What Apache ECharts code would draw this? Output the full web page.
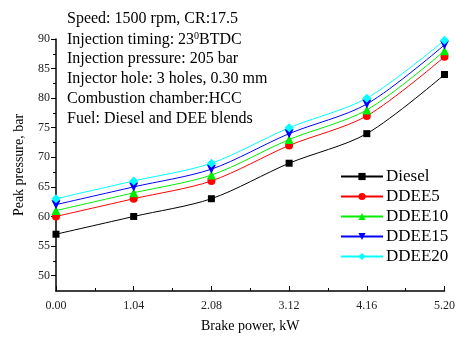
<!DOCTYPE html>
<html><head><meta charset="utf-8">
<script src="https://cdn.jsdelivr.net/npm/echarts@6/dist/echarts.min.js"></script>
<style>html,body{margin:0;padding:0;background:#fff}#c{width:458px;height:338px}</style>
</head><body><div id="c"></div>
<script>
const brakePower = [0, 1.04, 2.08, 3.12, 4.16, 5.2];
const diesel = [57, 60, 63, 69, 74, 84];
const ddee5  = [60, 63, 66, 72, 77, 87];
const ddee10 = [61, 64, 67, 73, 78, 88];
const ddee15 = [62, 65, 68, 74, 79, 89];
const ddee20 = [63, 66, 69, 75, 80, 89.8];
const xMajor = [0, 1.04, 2.08, 3.12, 4.16, 5.2];
const xMinor = [0.52, 1.56, 2.6, 3.64, 4.68];
const yMajor = [50, 55, 60, 65, 70, 75, 80, 85, 90];
const yMinor = [52.5, 57.5, 62.5, 67.5, 72.5, 77.5, 82.5, 87.5];
const seriesNames = ['Diesel', 'DDEE5', 'DDEE10', 'DDEE15', 'DDEE20'];
const seriesValues = [diesel, ddee5, ddee10, ddee15, ddee20];
const colors = ['#000000', '#ff0000', '#00ee00', '#0000ff', '#00ffff'];
const symbols = ['rect', 'circle', 'triangle', 'path://M0,0 L10,0 L5,9 Z', 'diamond'];
const symbolSizes = [7, 8, 9, 9, 9];
const notes = ['Speed: 1500 rpm, CR:17.5', 'Injection timing: 23{sup|0}BTDC', 'Injection pressure: 205 bar',
  'Injector hole: 3 holes, 0.30 mm', 'Combustion chamber:HCC', 'Fuel: Diesel and DEE blends'];

const font = 'Liberation Serif, Times New Roman, serif';
const chart = echarts.init(document.getElementById('c'));
const grid = {left: 56, right: 10, top: 39, bottom: 40};
chart.setOption({
  animation: false,
  grid: grid,
  xAxis: [{
    type: 'value', min: 0, max: 5.2, gridIndex: 0,
    name: 'Brake power, kW', nameLocation: 'middle', nameGap: 28,
    nameTextStyle: {fontFamily: font, fontSize: 14, color: '#000'},
    axisLine: {lineStyle: {color: '#000', width: 1.5}},
    axisTick: {inside: true, length: 5, customValues: xMajor, lineStyle: {color: '#000'}},
    axisLabel: {customValues: xMajor, formatter: v => v.toFixed(2), fontFamily: font, fontSize: 12, color: '#222', margin: 9},
    splitLine: {show: false}
  }, {
    type: 'value', min: 0, max: 5.2, position: 'bottom',
    axisLine: {show: false},
    axisTick: {inside: true, length: 3, customValues: xMinor, lineStyle: {color: '#000'}},
    axisLabel: {show: false}, splitLine: {show: false}
  }],
  yAxis: [{
    type: 'value', min: 47.4, max: 90,
    name: 'Peak pressure, bar', nameLocation: 'middle', nameGap: 30,
    nameTextStyle: {fontFamily: font, fontSize: 14, color: '#000'},
    axisLine: {show: true, lineStyle: {color: '#000', width: 1.5}},
    axisTick: {show: true, length: 5, customValues: yMajor, lineStyle: {color: '#000'}},
    axisLabel: {customValues: yMajor, fontFamily: font, fontSize: 12, color: '#222', margin: 6},
    splitLine: {show: false}
  }, {
    type: 'value', min: 47.4, max: 90, position: 'left',
    axisLine: {show: false},
    axisTick: {show: true, length: 3, customValues: yMinor, lineStyle: {color: '#000'}},
    axisLabel: {show: false}, splitLine: {show: false}
  }],
  legend: {
    orient: 'vertical', left: 335, top: 163, itemWidth: 42, itemHeight: 9, itemGap: 3,
    textStyle: {fontFamily: font, fontSize: 17, color: '#000', padding: [0, 0, 0, -2]},
    data: seriesNames
  },
  graphic: notes.map((t, i) => ({
    type: 'text', left: 67, top: 11 + i * 20,
    style: {text: t, font: '16px ' + font, fill: '#000',
      rich: {sup: {fontSize: 10, fontFamily: font, verticalAlign: 'top', padding: [0, 0, 8, 0]}}}
  })),
  series: seriesNames.map((n, i) => ({
    name: n, type: 'line', xAxisIndex: 0, yAxisIndex: 0,
    data: brakePower.map((x, j) => [x, seriesValues[i][j]]),
    smooth: 0.3, clip: false,
    symbol: symbols[i], symbolSize: symbolSizes[i],
    color: colors[i],
    lineStyle: {width: 1, color: colors[i]},
    itemStyle: {color: colors[i]}
  }))
});
</script></body></html>
